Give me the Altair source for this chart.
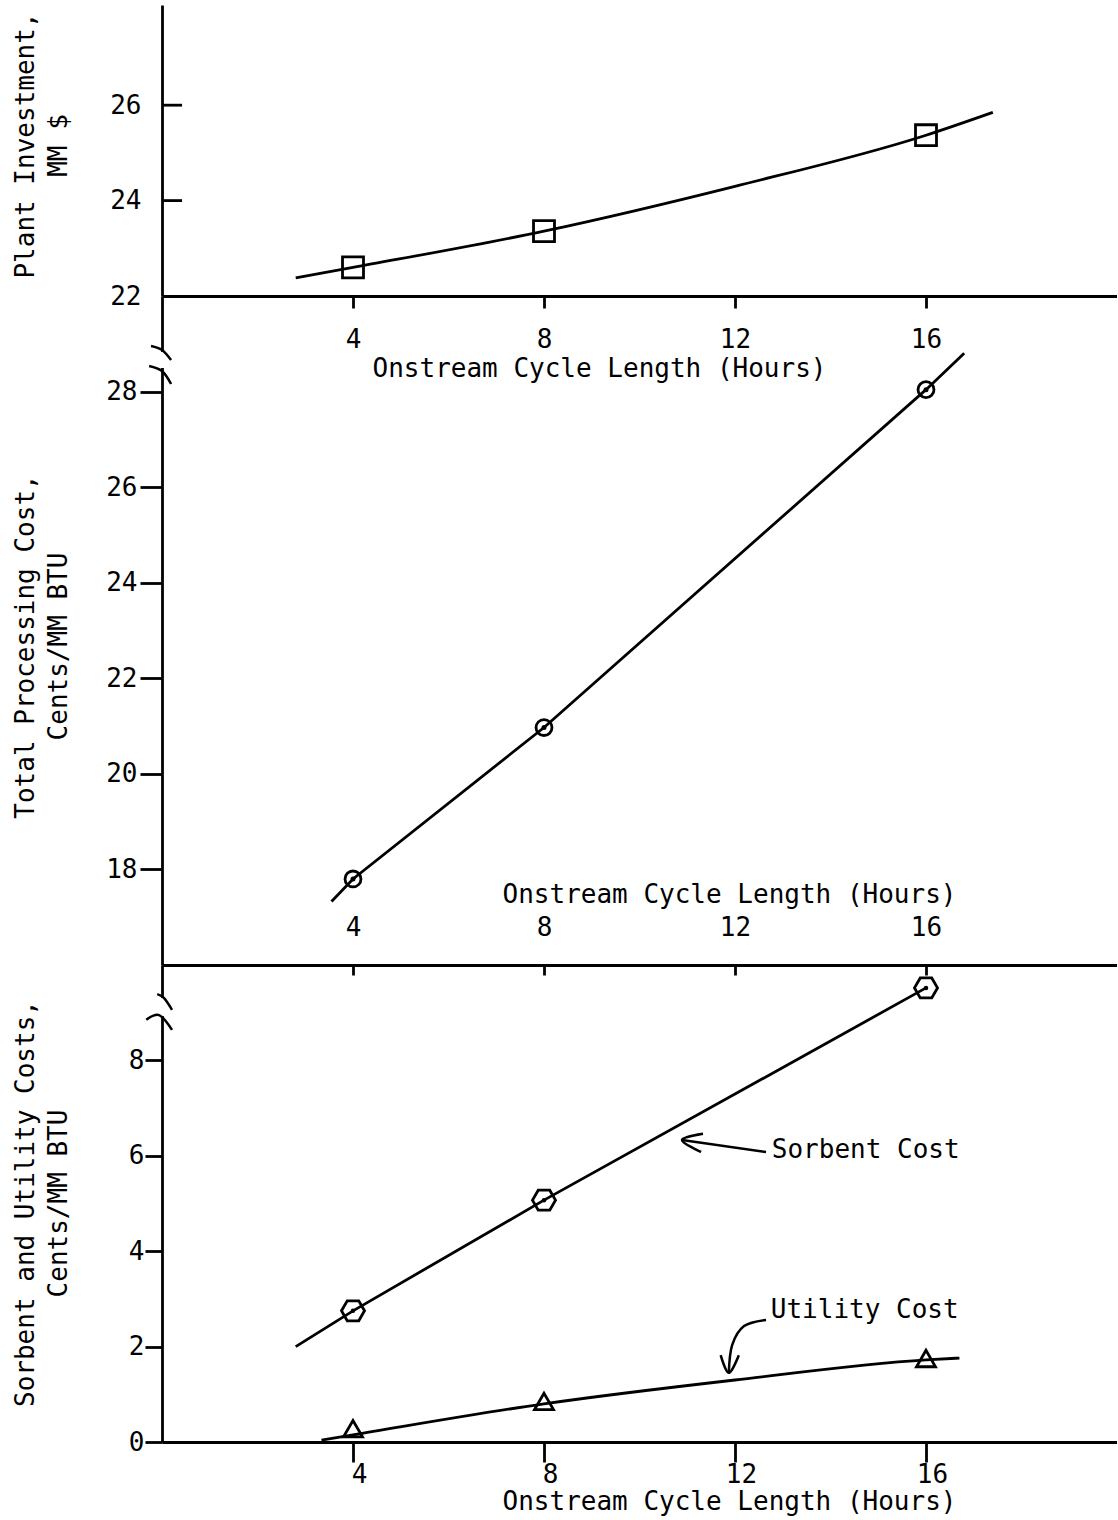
import altair as alt
import pandas as pd

FONT = "DejaVu Sans Mono"
FS = 26
LW = 2.8

# ---------------- data ----------------
hours = [4, 8, 16]
x_ticks = [4, 8, 12, 16]
x_title = "Onstream Cycle Length (Hours)"

plant = [22.6, 23.36, 25.37]
plant_curve_h = [2.8, 4, 8, 12, 16, 17.4]
plant_curve_v = [22.38, 22.6, 23.36, 24.3, 25.37, 25.85]
top_y_ticks = [22, 24, 26]
top_inner_ticks = [24, 26]

total = [17.8, 20.97, 28.04]
total_line_h = [3.55, 4, 8, 16, 16.8]
total_line_v = [17.33, 17.8, 20.97, 28.04, 28.8]
mid_y_ticks = [18, 20, 22, 24, 26, 28]

sorbent = [2.75, 5.07, 9.52]
sorbent_line_h = [2.8, 4, 8, 16]
sorbent_line_v = [2.0, 2.75, 5.07, 9.52]
utility = [0.28, 0.85, 1.75]
utility_line_h = [3.34, 4, 8, 12, 16, 16.7]
utility_line_v = [0.04, 0.15, 0.8, 1.3, 1.72, 1.76]
bot_y_ticks = [0, 2, 4, 6, 8]

labels_text = ["Sorbent Cost", "Utility Cost"]
labels_h = [12.77, 12.75]
labels_v = [6.12, 2.77]

# arrows (segment id, h, v)
arrow_seg = [0, 0, 1, 1, 1, 2, 2, 2, 2, 3, 3, 3]
arrow_h = [10.89, 12.65, 11.33, 10.89, 11.29, 12.65, 12.19, 11.94, 11.87, 11.70, 11.87, 12.08]
arrow_v = [6.33, 6.08, 6.46, 6.33, 6.08, 2.56, 2.43, 2.03, 1.45, 1.82, 1.45, 1.82]

# axis-break strokes
mid_break_seg = [0, 0, 0, 1, 1, 1]
mid_break_h = [-0.23, 0.0, 0.19, -0.27, 0.0, 0.19]
mid_break_v = [28.953, 28.870, 28.660, 28.536, 28.430, 28.158]
mid_gap = [28.828, 28.493]
bot_break_seg = [0, 0, 0, 1, 1, 1]
bot_break_h = [-0.10, 0.04, 0.21, -0.33, -0.06, 0.21]
bot_break_v = [9.39, 9.31, 9.06, 8.85, 8.95, 8.64]
bot_gap = [9.31, 8.93]

HEX = "M-1,0L-0.5,-0.866L0.5,-0.866L1,0L0.5,0.866L-0.5,0.866Z"

# ---------------- helpers ----------------
xs = alt.Scale(domain=[0, 20], nice=False, zero=False)


def D(h, v, **extra):
    d = {"h": h, "v": v}
    d.update(extra)
    return pd.DataFrame(d)


def panel(xaxis, yaxis, yscale, layers_spec, height):
    X = alt.X("h:Q", scale=xs, axis=xaxis)
    Y = alt.Y("v:Q", scale=yscale, axis=yaxis)
    layers = []
    for kind, data, opts in layers_spec:
        if kind == "line":
            m = alt.Chart(data).mark_line(color="black", strokeWidth=opts.get("sw", LW),
                                          interpolate=opts.get("interp", "linear"))
            enc = {"x": X, "y": Y}
            if "seg" in data.columns:
                enc["detail"] = "seg:N"
                enc["order"] = alt.Order("i:Q")
            layers.append(m.encode(**enc))
        elif kind == "point":
            m = alt.Chart(data).mark_point(shape=opts["shape"], size=opts["size"], filled=opts.get("filled", False),
                                           color="black", strokeWidth=LW, opacity=1)
            layers.append(m.encode(x=X, y=Y))
        elif kind == "text":
            m = alt.Chart(data).mark_text(font=FONT, fontSize=FS, align="left", baseline="middle", color="black")
            layers.append(m.encode(x=X, y=Y, text="t:N"))
        elif kind == "rule":
            m = alt.Chart(data).mark_rule(color="black", strokeWidth=LW)
            layers.append(m.encode(x=X, x2="h2:Q", y=Y))
        elif kind == "rect":
            m = alt.Chart(data).mark_rect(color="white")
            layers.append(m.encode(x=X, x2="h2:Q", y=Y, y2="v2:Q"))
    return alt.layer(*layers).properties(width=955, height=height)


TX = -123.5

# ---------------- top panel ----------------
top = panel(
    alt.Axis(values=x_ticks, title=x_title, tickSize=12, labelPadding=18, titleX=437, titleY=59),
    alt.Axis(values=top_y_ticks, title=["Plant Investment,", "MM $"], tickSize=0, labelPadding=21,
             titleX=TX, titleY=140),
    alt.Scale(domain=[22, 28.1], nice=False, zero=False),
    [
        ("rule", D([0] * len(top_inner_ticks), top_inner_ticks, h2=[0.42] * len(top_inner_ticks)), {}),
        ("line", D(plant_curve_h, plant_curve_v), {"interp": "monotone"}),
        ("point", D(hours, plant), {"shape": "square", "size": 440}),
    ],
    291,
)

# ---------------- middle panel ----------------
mid = panel(
    alt.Axis(values=x_ticks, title=x_title, tickSize=10, labelPadding=-61, titleX=567, titleY=-84),
    alt.Axis(values=mid_y_ticks, title=["Total Processing Cost,", "Cents/MM BTU"], tickSize=22, labelPadding=3,
             titleX=TX, titleY=350),
    alt.Scale(domain=[16, 30], nice=False, zero=False),
    [
        ("rect", D([-0.12], [mid_gap[0]], h2=[0.12], v2=[mid_gap[1]]), {}),
        ("line", D(mid_break_h, mid_break_v, seg=mid_break_seg, i=list(range(len(mid_break_h)))),
         {"interp": "cardinal", "sw": 2.5}),
        ("line", D(total_line_h, total_line_v), {"interp": "linear"}),
        ("point", D(hours, total), {"shape": "circle", "size": 254}),
        ("point", D(hours, total), {"shape": "circle", "size": 25, "filled": True}),
    ],
    669,
)

# ---------------- bottom panel ----------------
bot = panel(
    alt.Axis(values=x_ticks, title=x_title, tickSize=20, labelPadding=-1, labelOffset=6, titleX=567, titleY=46),
    alt.Axis(values=bot_y_ticks, title=["Sorbent and Utility Costs,", "Cents/MM BTU"], tickSize=17, labelPadding=1,
             titleX=TX, titleY=238),
    alt.Scale(domain=[0, 10], nice=False, zero=False),
    [
        ("rect", D([-0.12], [bot_gap[0]], h2=[0.12], v2=[bot_gap[1]]), {}),
        ("line", D(bot_break_h, bot_break_v, seg=bot_break_seg, i=list(range(len(bot_break_h)))),
         {"interp": "cardinal", "sw": 2.5}),
        ("line", D(sorbent_line_h, sorbent_line_v), {"interp": "linear"}),
        ("line", D(utility_line_h, utility_line_v), {"interp": "monotone"}),
        ("point", D(hours, sorbent), {"shape": HEX, "size": 530}),
        ("point", D(hours, sorbent), {"shape": "circle", "size": 20, "filled": True}),
        ("point", D(hours, utility), {"shape": "triangle-up", "size": 360}),
        ("line", D(arrow_h, arrow_v, seg=arrow_seg, i=list(range(len(arrow_h)))),
         {"interp": "cardinal", "sw": 2.5}),
        ("text", D(labels_h, labels_v, t=labels_text), {}),
    ],
    477,
)

chart = (
    alt.vconcat(top, mid, bot, spacing=0, bounds="flush")
    .properties(padding={"left": 12, "top": 5, "right": 0, "bottom": 5}, background="white")
    .configure_axis(
        labelFont=FONT, labelFontSize=FS, labelColor="black",
        titleFont=FONT, titleFontSize=FS, titleFontWeight="normal", titleColor="black",
        titleLineHeight=33, domainColor="black", domainWidth=LW, tickColor="black", tickWidth=LW,
        grid=False, labelOverlap=False,
    )
    .configure_view(stroke=None)
)

chart.save("out.html", embed_options={"renderer": "svg", "actions": False})
